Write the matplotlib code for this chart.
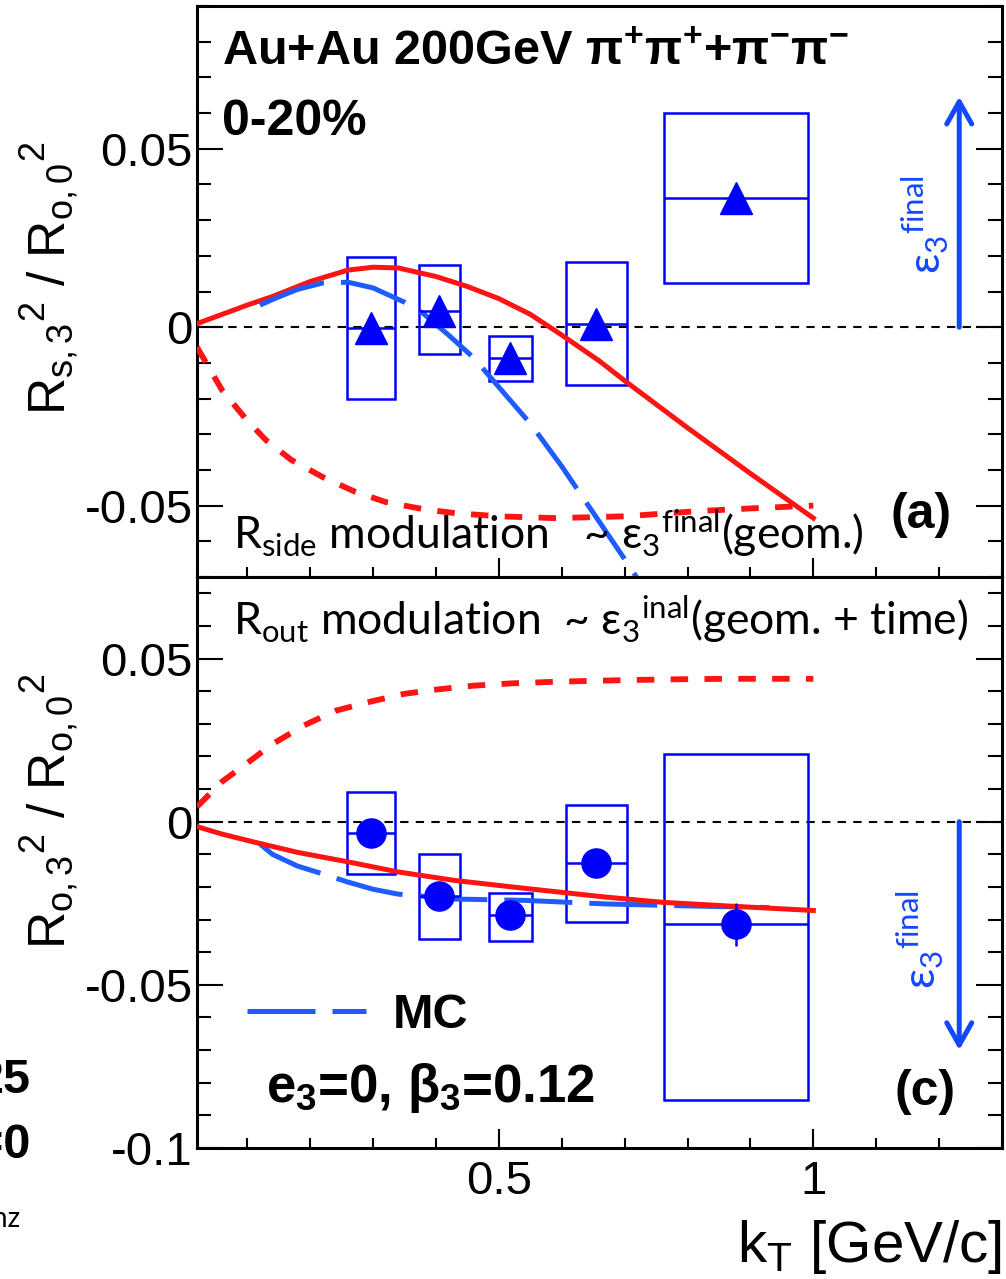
import matplotlib
matplotlib.use('Agg')
import matplotlib.pyplot as plt
from matplotlib.ticker import MultipleLocator
import numpy as np

plt.rcParams['font.family'] = ['Liberation Sans', 'DejaVu Sans']
plt.rcParams['mathtext.fontset'] = 'custom'
plt.rcParams['mathtext.rm'] = 'Liberation Sans'
plt.rcParams['mathtext.it'] = 'Liberation Sans:italic'
plt.rcParams['mathtext.bf'] = 'Liberation Sans:bold'
plt.rcParams['axes.unicode_minus'] = False

# ---- data ----
kt = [0.297, 0.405, 0.518, 0.655, 0.877]
kt_w = [0.076, 0.065, 0.068, 0.097, 0.230]

# panel (a): R_s,3^2 / R_o,0^2
rs_val = [-0.0003, 0.0046, -0.0085, 0.0010, 0.0362]
rs_stat = [0.002, 0.002, 0.002, 0.002, 0.003]
rs_sys_lo = [-0.0200, -0.0076, -0.0152, -0.0163, 0.0124]
rs_sys_hi = [0.0197, 0.0174, -0.0025, 0.0183, 0.0600]

# panel (c): R_o,3^2 / R_o,0^2
ro_val = [-0.0035, -0.0228, -0.0287, -0.0127, -0.0315]
ro_stat = [0.002, 0.002, 0.002, 0.002, 0.0067]
ro_sys_lo = [-0.0160, -0.0358, -0.0367, -0.0306, -0.0852]
ro_sys_hi = [0.0090, -0.0099, -0.0219, 0.0052, 0.0207]

# model curves, panel (a)
a_solid_x = [0.02, 0.06, 0.10, 0.14, 0.20, 0.26, 0.30, 0.34, 0.40, 0.45, 0.50, 0.55, 0.60, 0.66, 0.70, 0.80, 0.90, 1.00]
a_solid_y = [0.0010, 0.0036, 0.0062, 0.0086, 0.0128, 0.0160, 0.0168, 0.0166, 0.0142, 0.0114, 0.0080, 0.0036, -0.0022, -0.0095, -0.0150, -0.0282, -0.0410, -0.0535]
a_dash_x = [0.02, 0.06, 0.10, 0.13, 0.17, 0.22, 0.27, 0.32, 0.38, 0.43, 0.50, 0.59, 0.70, 0.82, 0.91, 1.00]
a_dash_y = [-0.0056, -0.0177, -0.0262, -0.0317, -0.0372, -0.0420, -0.0460, -0.0490, -0.0510, -0.0521, -0.0530, -0.0535, -0.0530, -0.0515, -0.0507, -0.0500]
a_mc_x = [0.12, 0.15, 0.18, 0.22, 0.26, 0.30, 0.35, 0.38, 0.42, 0.46, 0.50, 0.55, 0.60, 0.65, 0.70, 0.73]
a_mc_y = [0.0062, 0.0085, 0.0106, 0.0124, 0.0126, 0.0110, 0.0070, 0.0038, -0.0022, -0.0086, -0.0168, -0.0270, -0.0390, -0.0520, -0.0650, -0.0730]

# model curves, panel (c)
c_solid_x = [0.02, 0.06, 0.11, 0.18, 0.26, 0.34, 0.43, 0.54, 0.67, 0.76, 0.88, 1.00]
c_solid_y = [-0.0015, -0.0038, -0.0062, -0.0094, -0.0123, -0.0154, -0.0180, -0.0204, -0.0231, -0.0247, -0.0260, -0.0272]
c_dash_x = [0.02, 0.06, 0.10, 0.14, 0.19, 0.24, 0.30, 0.35, 0.40, 0.46, 0.52, 0.59, 0.70, 0.80, 0.87, 1.00]
c_dash_y = [0.0046, 0.0123, 0.0180, 0.0238, 0.0295, 0.0340, 0.0370, 0.0392, 0.0405, 0.0417, 0.0424, 0.0429, 0.0434, 0.0437, 0.0438, 0.0438]
c_mc_x = [0.12, 0.14, 0.18, 0.22, 0.26, 0.30, 0.34, 0.43, 0.54, 0.67, 0.80, 0.93]
c_mc_y = [-0.0068, -0.0100, -0.0136, -0.0160, -0.0185, -0.0207, -0.0222, -0.0237, -0.0241, -0.0252, -0.0258, -0.0263]

RED = '#ff1414'
BLUE = '#0000ff'
MCBLUE = '#1f5cff'
ARROW = '#1448ff'
CAL = ['Lato', 'Open Sans', 'DejaVu Sans']

W, H = 1006, 1279
fig = plt.figure(figsize=(W / 100, H / 100), dpi=100)
ax1 = fig.add_axes([197 / W, 1 - 577 / H, 805 / W, 571 / H])
ax2 = fig.add_axes([197 / W, 1 - 1148 / H, 805 / W, 571 / H])


def style(ax, ylim, yticks, ylabels):
    ax.set_xlim(0.02, 1.3)
    ax.set_ylim(*ylim)
    ax.set_xticks([0.5, 1.0])
    ax.set_xticklabels(['0.5', '1'])
    ax.xaxis.set_minor_locator(MultipleLocator(0.1))
    ax.set_yticks(yticks)
    ax.set_yticklabels(ylabels)
    ax.yaxis.set_minor_locator(MultipleLocator(0.01))
    ax.tick_params(which='both', direction='in', right=True, top=False, width=1.5)
    ax.tick_params(axis='y', which='major', length=19, labelsize=34, pad=3)
    ax.tick_params(axis='y', which='minor', length=10)
    ax.tick_params(axis='x', which='major', length=14, labelsize=34, pad=9)
    ax.tick_params(axis='x', which='minor', length=7)
    for s in ax.spines.values():
        s.set_linewidth(2.2)
    ax.axhline(0, color='k', lw=1.5, dashes=(4, 3.5), zorder=1)


style(ax1, (-0.07, 0.09), [-0.05, 0, 0.05], ['-0.05', '0', '0.05'])
style(ax2, (-0.1, 0.075), [-0.1, -0.05, 0, 0.05], ['-0.1', '-0.05', '0', '0.05'])
ax1.tick_params(axis='x', labelbottom=False)

# panel (a)
ax1.bar(kt, np.subtract(rs_sys_hi, rs_sys_lo), width=kt_w, bottom=rs_sys_lo,
        fill=False, edgecolor=BLUE, lw=1.8, zorder=2)
ax1.plot(a_dash_x, a_dash_y, color=RED, lw=4.2, dashes=(3.0, 2.8), zorder=3)
ax1.plot(a_solid_x, a_solid_y, color=RED, lw=3.6, zorder=3)
mc_line, = ax1.plot(a_mc_x, a_mc_y, color=MCBLUE, lw=3.6, dashes=(13.6, 3.4), zorder=3)
ax1.errorbar(kt, rs_val, xerr=np.array(kt_w) / 2, yerr=rs_stat, fmt='^', color=BLUE,
             ms=23, elinewidth=1.8, capsize=0, zorder=4)

# panel (c)
ax2.bar(kt, np.subtract(ro_sys_hi, ro_sys_lo), width=kt_w, bottom=ro_sys_lo,
        fill=False, edgecolor=BLUE, lw=1.8, zorder=2)
ax2.plot(c_dash_x, c_dash_y, color=RED, lw=4.2, dashes=(3.0, 2.8), zorder=3)
ax2.plot(c_mc_x, c_mc_y, color=MCBLUE, lw=3.6, dashes=(13.6, 3.4), zorder=3)
ax2.plot(c_solid_x, c_solid_y, color=RED, lw=3.6, zorder=3)
ax2.errorbar(kt, ro_val, xerr=np.array(kt_w) / 2, yerr=ro_stat, fmt='o', color=BLUE,
             ms=21, elinewidth=1.8, capsize=0, zorder=4)

# arrows for eps3 final
arr = dict(arrowstyle='->,head_length=0.8,head_width=0.45', lw=3.6, color=ARROW,
           shrinkA=0, shrinkB=0, mutation_scale=20)
ax1.annotate('', xy=(1.232, 0.0646), xytext=(1.232, 0.0), arrowprops=arr)
ax2.annotate('', xy=(1.232, -0.0700), xytext=(1.232, 0.0), arrowprops=arr)
eps_lab = r'ε$_{\mathregular{3}}$$^{\mathregular{final}}$'
ax1.text(1.178, 0.0287, eps_lab, rotation=90, color=ARROW, fontsize=32,
         family=CAL, ha='center', va='center')
ax2.text(1.170, -0.0361, eps_lab, rotation=90, color=ARROW, fontsize=32,
         family=CAL, ha='center', va='center')

# labels in panels
ax1.text(0.059, 0.0736,
         r'Au+Au 200GeV π$^{\mathregular{+}}$π$^{\mathregular{+}}$+π$^{\mathregular{-}}$π$^{\mathregular{-}}$',
         fontsize=35, fontweight='bold', va='baseline')
ax1.text(0.059, 0.0539, '0-20%', fontsize=36, fontweight='bold', va='baseline')
ax1.text(1.171, -0.0525, '(a)', fontsize=36, fontweight='bold', ha='center', va='center')
ax2.text(1.178, -0.0827, '(c)', fontsize=36, fontweight='bold', ha='center', va='center')

ax1.text(0.078, -0.0621,
         r'R$_{\mathregular{side}}$ modulation   ~ ε$_{\mathregular{3}}$$^{\mathregular{final}}$(geom.)',
         fontsize=32, family=CAL, va='baseline')
ax2.text(0.078, 0.0571,
         r'R$_{\mathregular{out}}$ modulation  ~ ε$_{\mathregular{3}}$$^{\mathregular{inal}}$(geom. + time)',
         fontsize=32, family=CAL, va='baseline')

ax2.legend(handles=[mc_line], labels=['MC'], loc='center left',
           bbox_to_anchor=(247 / W, 1 - 1016 / H), bbox_transform=fig.transFigure,
           frameon=False, borderpad=0, borderaxespad=0, handlelength=2.45,
           handletextpad=0.55, prop=dict(size=35, weight='bold'))
ax2.text(0.129, -0.0858, r'e$_{\mathregular{3}}$=0, β$_{\mathregular{3}}$=0.12',
         fontsize=38, fontweight='bold', va='baseline')

# axis titles
fig.text(50 / W, 1 - 278 / H,
         r'R$_{\mathregular{s,3}}$$^{\mathregular{2}}$ / R$_{\mathregular{o,0}}$$^{\mathregular{2}}$',
         rotation=90, fontsize=37, ha='center', va='center')
fig.text(50 / W, 1 - 811 / H,
         r'R$_{\mathregular{o,3}}$$^{\mathregular{2}}$ / R$_{\mathregular{o,0}}$$^{\mathregular{2}}$',
         rotation=90, fontsize=37, ha='center', va='center')
fig.text(1002 / W, 1 - 1262 / H, r'k$_{\mathregular{T}}$ [GeV/c]', fontsize=42,
         ha='right', va='baseline')

# clipped text from the neighbouring panel
fig.text(30 / W, 1 - 1093 / H, '25', fontsize=35, fontweight='bold', ha='right', va='baseline')
fig.text(30 / W, 1 - 1158 / H, '=0', fontsize=35, fontweight='bold', ha='right', va='baseline')
fig.text(20 / W, 1 - 1227 / H, 'nz', fontsize=20, family=CAL, ha='right', va='baseline')

fig.savefig('out.png', dpi=100)
